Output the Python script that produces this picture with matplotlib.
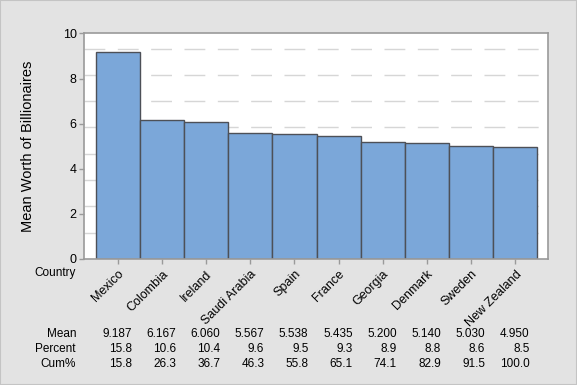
import matplotlib
matplotlib.use("Agg")
import matplotlib.pyplot as plt
from matplotlib.patches import Rectangle
import numpy as np

countries = ["Mexico", "Colombia", "Ireland", "Saudi Arabia", "Spain", "France",
             "Georgia", "Denmark", "Sweden", "New Zealand"]
means = [9.187, 6.167, 6.060, 5.567, 5.538, 5.435, 5.200, 5.140, 5.030, 4.950]
mean_labels = ["9.187", "6.167", "6.060", "5.567", "5.538", "5.435", "5.200", "5.140", "5.030", "4.950"]
percent_labels = ["15.8", "10.6", "10.4", "9.6", "9.5", "9.3", "8.9", "8.8", "8.6", "8.5"]
cum_labels = ["15.8", "26.3", "36.7", "46.3", "55.8", "65.1", "74.1", "82.9", "91.5", "100.0"]
yticks = [0, 2, 4, 6, 8, 10]

plt.rcParams['font.family'] = ['Liberation Sans', 'DejaVu Sans']

fig = plt.figure(figsize=(5.77, 3.85), dpi=100)
fig.patch.set_facecolor("#e3e3e3")
fig.patches.append(Rectangle((0, 0), 1, 1, transform=fig.transFigure, fill=False,
                             edgecolor="#c4c4c4", linewidth=1.5, zorder=0))

ax = fig.add_axes([0.1461, 0.3273, 0.8042, 0.5857])
ax.set_facecolor("white")

x = np.arange(1, len(countries) + 1)
# background dashed reference lines
for gy in np.arange(1, 9) * 7 / 6:
    ax.axhline(gy, color="#d6d6d6", linewidth=1.0, dashes=(15, 9), zorder=0.5)

ax.bar(x, means, width=1.0, color="#7ba7d9", edgecolor="#4d5057", linewidth=1.0, zorder=2)

ax.set_xlim(0.245, 10.745)
ax.set_ylim(0, 10)
ax.set_yticks(yticks)
ax.set_yticklabels([str(v) for v in yticks], fontsize=9)
ax.set_xticks(x)
ax.set_xticklabels(countries, rotation=45, ha="right", va="top", rotation_mode="anchor",
                   fontsize=9)
for s in ax.spines.values():
    s.set_color("#9a9a9a")
    s.set_linewidth(1.2)
ax.tick_params(axis="both", colors="#9a9a9a", length=3.5, width=1, labelcolor="black", pad=2)
ax.tick_params(axis="x", pad=3)

ax.set_ylabel("Mean Worth of Billionaires", fontsize=10.5, labelpad=20)

# "Country" label and table
ax.text(-0.018, -0.064, "Country", transform=ax.transAxes, ha="right", va="center", fontsize=8.5)
rows = [("Mean", mean_labels, 334), ("Percent", percent_labels, 349), ("Cum%", cum_labels, 364)]
H = 385
for name, vals, ypx in rows:
    yf = 1 - ypx / H
    fig.text(76 / 577, yf, name, ha="right", va="center", fontsize=8.5)
    for xi, v in zip(x, vals):
        ax.annotate(v, xy=(xi, yf), xycoords=("data", "figure fraction"),
                    xytext=(10.1, 0), textcoords="offset points",
                    ha="right", va="center", fontsize=8.5, annotation_clip=False)

fig.savefig("out.png", dpi=100, facecolor=fig.get_facecolor())
